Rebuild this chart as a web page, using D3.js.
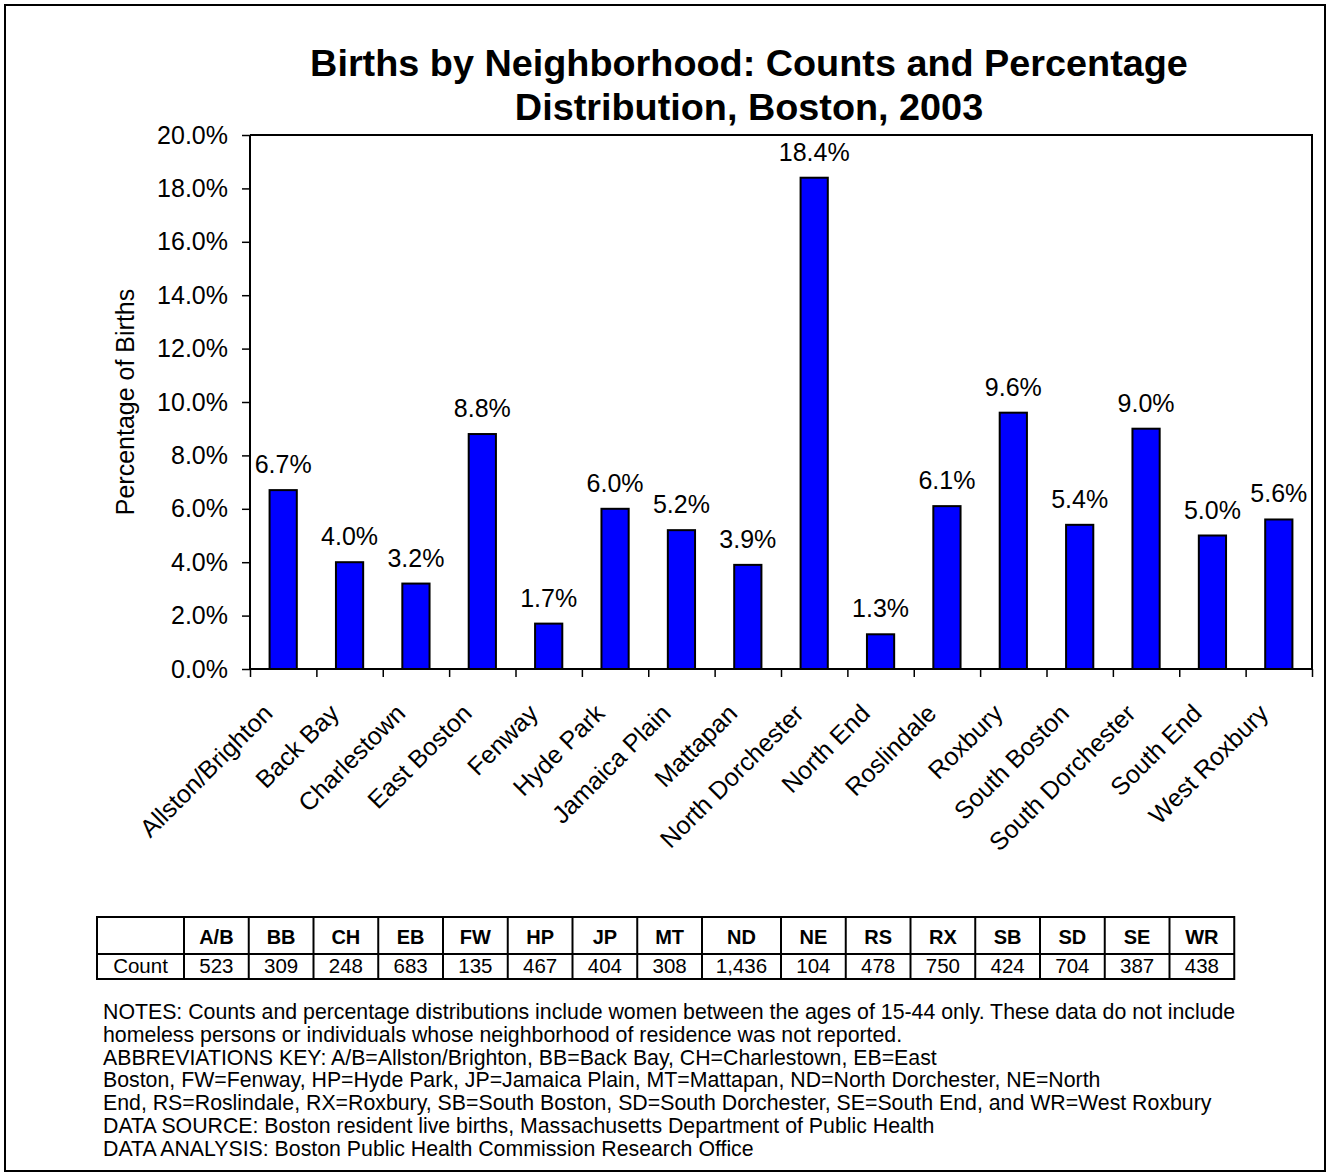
<!DOCTYPE html>
<html>
<head>
<meta charset="utf-8">
<script src="https://cdn.jsdelivr.net/npm/d3@7"></script>
<style>
  body { margin: 0; background: #fff; }
  svg { display: block; font-family: Arial, "Liberation Sans", sans-serif; }
</style>
</head>
<body>
<div id="chart"><svg></svg></div>
<script>
// data
var neighborhoods = ["Allston/Brighton", "Back Bay", "Charlestown", "East Boston", "Fenway", "Hyde Park",
  "Jamaica Plain", "Mattapan", "North Dorchester", "North End", "Roslindale", "Roxbury",
  "South Boston", "South Dorchester", "South End", "West Roxbury"];
var abbrevs = ["A/B", "BB", "CH", "EB", "FW", "HP", "JP", "MT", "ND", "NE", "RS", "RX", "SB", "SD", "SE", "WR"];
var percents = [6.7, 4.0, 3.2, 8.8, 1.7, 6.0, 5.2, 3.9, 18.4, 1.3, 6.1, 9.6, 5.4, 9.0, 5.0, 5.6];
var counts = [523, 309, 248, 683, 135, 467, 404, 308, 1436, 104, 478, 750, 424, 704, 387, 438];
var yTicks = [0, 2, 4, 6, 8, 10, 12, 14, 16, 18, 20];

var titleLines = ["Births by Neighborhood: Counts and Percentage", "Distribution, Boston, 2003"];
var notes = [
  "NOTES: Counts and percentage distributions include women between the ages of 15-44 only. These data do not include",
  "homeless persons or individuals whose neighborhood of residence was not reported.",
  "ABBREVIATIONS KEY: A/B=Allston/Brighton, BB=Back Bay, CH=Charlestown, EB=East",
  "Boston, FW=Fenway, HP=Hyde Park, JP=Jamaica Plain, MT=Mattapan, ND=North Dorchester, NE=North",
  "End, RS=Roslindale, RX=Roxbury, SB=South Boston, SD=South Dorchester, SE=South End, and WR=West Roxbury",
  "DATA SOURCE: Boston resident live births, Massachusetts Department of Public Health",
  "DATA ANALYSIS: Boston Public Health Commission Research Office"
];

var W = 1328, H = 1174;
var plot = {left: 250, right: 1312, top: 135, bottom: 669};

var svg = d3.select("#chart").select("svg")
    .attr("width", W)
    .attr("height", H);

svg.append("rect").attr("width", W).attr("height", H).attr("fill", "#fff");

// outer frame
svg.append("rect")
    .attr("x", 5).attr("y", 5)
    .attr("width", 1320).attr("height", 1166)
    .attr("fill", "none").attr("stroke", "#000").attr("stroke-width", 2);

// title
svg.append("text")
    .attr("text-anchor", "middle")
    .attr("font-size", 37.8).attr("font-weight", "bold")
  .selectAll("tspan")
    .data(titleLines)
  .enter().append("tspan")
    .attr("x", 749)
    .attr("y", function(d, i) { return 76 + i * 44; })
    .text(function(d) { return d; });

var x = d3.scaleBand()
    .domain(neighborhoods)
    .range([plot.left, plot.right])
    .paddingInner(0.59)
    .paddingOuter(0.295);

var y = d3.scaleLinear()
    .domain([0, 20])
    .range([plot.bottom, plot.top]);

// plot area border (top + right)
svg.append("path")
    .attr("d", "M" + plot.left + "," + plot.top + "H" + plot.right + "V" + plot.bottom)
    .attr("fill", "none").attr("stroke", "#000").attr("stroke-width", 2);

// bars
svg.selectAll(".bar")
    .data(percents)
  .enter().append("rect")
    .attr("class", "bar")
    .attr("x", function(d, i) { return x(neighborhoods[i]); })
    .attr("width", x.bandwidth())
    .attr("y", function(d) { return y(d); })
    .attr("height", function(d) { return y(0) - y(d); })
    .attr("fill", "#0000ff")
    .attr("stroke", "#000")
    .attr("stroke-width", 2);

// bar value labels
svg.selectAll(".val")
    .data(percents)
  .enter().append("text")
    .attr("class", "val")
    .attr("x", function(d, i) { return x(neighborhoods[i]) + x.bandwidth() / 2; })
    .attr("y", function(d) { return y(d) - 17; })
    .attr("text-anchor", "middle")
    .attr("font-size", 25)
    .text(function(d) { return d.toFixed(1) + "%"; });

// y axis
var yAxis = svg.append("g")
    .attr("transform", "translate(" + plot.left + ",0)")
    .call(d3.axisLeft(y).tickValues(yTicks).tickSize(8).tickPadding(14)
      .tickFormat(function(d) { return d.toFixed(1) + "%"; }));
yAxis.select(".domain").attr("stroke-width", 2).attr("d", "M0," + plot.top + "V" + plot.bottom);
yAxis.selectAll(".tick line").attr("stroke-width", 1.5);
yAxis.selectAll("text").attr("font-size", 25).attr("font-family", null).attr("fill", "#000");

// x axis: ticks between categories
var xi = d3.scaleLinear().domain([0, neighborhoods.length]).range([plot.left, plot.right]);
var xAxis = svg.append("g")
    .attr("transform", "translate(0," + plot.bottom + ")")
    .call(d3.axisBottom(xi).tickValues(d3.range(neighborhoods.length + 1)).tickSize(8).tickFormat(""));
xAxis.select(".domain").attr("stroke-width", 2).attr("d", "M" + plot.left + ",0H" + plot.right);
xAxis.selectAll(".tick line").attr("stroke-width", 1.5);

// rotated category labels
svg.selectAll(".cat")
    .data(neighborhoods)
  .enter().append("text")
    .attr("class", "cat")
    .attr("transform", function(d) {
      return "translate(" + (x(d) + x.bandwidth() / 2 - 9) + "," + (plot.bottom + 46) + ") rotate(-45)";
    })
    .attr("text-anchor", "end")
    .attr("font-size", 25)
    .text(function(d) { return d; });

// y axis title
svg.append("text")
    .attr("transform", "translate(134," + ((plot.top + plot.bottom) / 2) + ") rotate(-90)")
    .attr("text-anchor", "middle")
    .attr("font-size", 25)
    .text("Percentage of Births");

// counts table
var colW = abbrevs.map(function(a) { return a === "ND" ? 79 : 64.75; });
var colX = [97 + 87];
colW.forEach(function(w, i) { colX.push(colX[i] + w); });
var tTop = 917, tMid = 954, tBot = 979;

var table = svg.append("g").attr("class", "table");
table.append("rect")
    .attr("x", 97).attr("y", tTop)
    .attr("width", colX[colX.length - 1] - 97).attr("height", tBot - tTop)
    .attr("fill", "none").attr("stroke", "#000").attr("stroke-width", 2);
table.append("line")
    .attr("x1", 97).attr("x2", colX[colX.length - 1])
    .attr("y1", tMid).attr("y2", tMid)
    .attr("stroke", "#000").attr("stroke-width", 2);
table.selectAll(".vline")
    .data(colX.slice(0, -1))
  .enter().append("line")
    .attr("class", "vline")
    .attr("x1", function(d) { return d; }).attr("x2", function(d) { return d; })
    .attr("y1", tTop).attr("y2", tBot)
    .attr("stroke", "#000").attr("stroke-width", 2);

table.selectAll(".hdr")
    .data(abbrevs)
  .enter().append("text")
    .attr("class", "hdr")
    .attr("x", function(d, i) { return colX[i] + colW[i] / 2; })
    .attr("y", tTop + 27)
    .attr("text-anchor", "middle")
    .attr("font-size", 20).attr("font-weight", "bold")
    .text(function(d) { return d; });

table.append("text")
    .attr("x", 97 + 87 / 2).attr("y", tMid + 19)
    .attr("text-anchor", "middle")
    .attr("font-size", 20.5)
    .text("Count");

var fmt = d3.format(",");
table.selectAll(".cnt")
    .data(counts)
  .enter().append("text")
    .attr("class", "cnt")
    .attr("x", function(d, i) { return colX[i] + colW[i] / 2; })
    .attr("y", tMid + 19)
    .attr("text-anchor", "middle")
    .attr("font-size", 20.5)
    .text(function(d) { return fmt(d); });

// notes
svg.append("g").selectAll("text")
    .data(notes)
  .enter().append("text")
    .attr("x", 103)
    .attr("y", function(d, i) { return 1019 + i * 22.8; })
    .attr("font-size", 21.3)
    .text(function(d) { return d; });
</script>
</body>
</html>
